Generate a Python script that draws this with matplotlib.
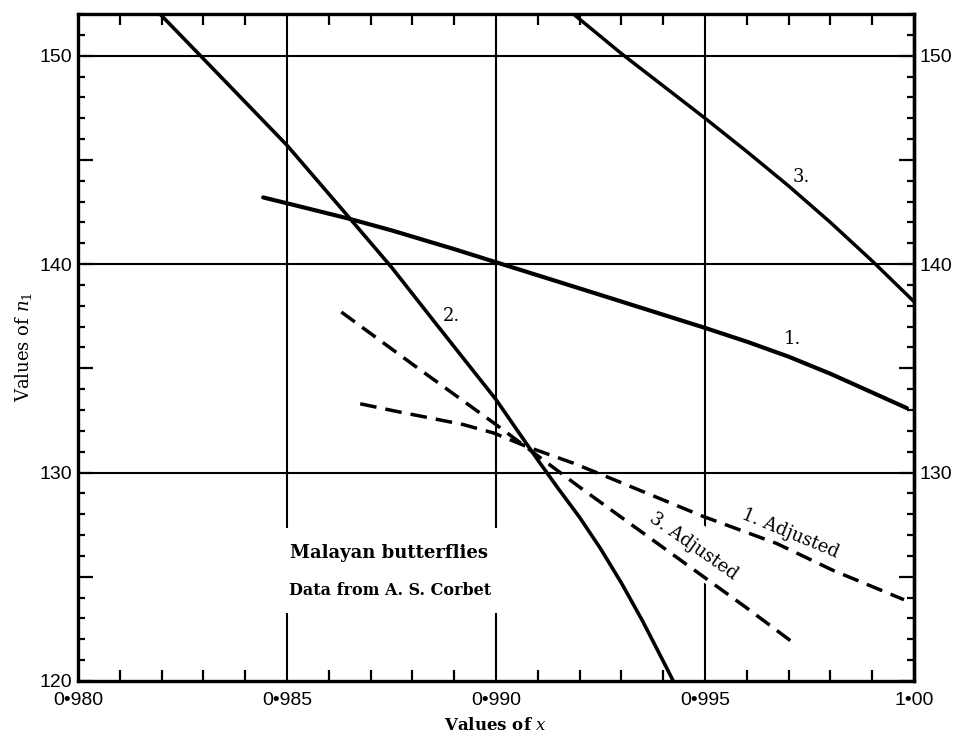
import matplotlib
matplotlib.use("Agg")
import matplotlib.pyplot as plt
from matplotlib.ticker import FixedLocator, MultipleLocator, FuncFormatter

# Curve 1: n1 from the unadjusted series
x_c1 = [0.98443, 0.9855, 0.9865, 0.9875, 0.9890, 0.9900, 0.9925, 0.9950, 0.9960, 0.9970,
        0.9980, 0.9990, 0.99983]
y_c1 = [143.2, 142.67, 142.17, 141.62, 140.72, 140.09, 138.52, 136.94, 136.28, 135.56,
        134.74, 133.84, 133.09]

# Curve 2
x_c2 = [0.98196, 0.9830, 0.9850, 0.9865, 0.9875, 0.9885, 0.9900, 0.9910, 0.9915, 0.9920,
        0.9925, 0.9930, 0.9935, 0.9940, 0.99424]
y_c2 = [152.0, 149.85, 145.7, 142.2, 139.85, 137.3, 133.5, 130.6, 129.2, 127.85,
        126.35, 124.7, 122.9, 120.95, 120.0]

# Curve 3
x_c3 = [0.99185, 0.9930, 0.9950, 0.9960, 0.9970, 0.9980, 0.9990, 1.0000]
y_c3 = [152.0, 150.1, 147.0, 145.4, 143.75, 142.0, 140.15, 138.2]

# Adjusted versions of curves 1 and 3
x_a1 = [0.98675, 0.98770, 0.98842, 0.98922, 0.98994, 0.99073, 0.99185, 0.99265,
        0.99495, 0.99671, 0.99807, 0.99976]
y_a1 = [133.3, 132.9, 132.62, 132.3, 131.9, 131.25, 130.45, 129.8, 127.9, 126.6, 125.3, 123.9]

x_a3 = [0.9863, 0.9880, 0.9900, 0.9920, 0.9940, 0.9960, 0.9972]
y_a3 = [137.7, 135.2, 132.3, 129.3, 126.4, 123.5, 121.7]

# Axis ticks and labels
x_major = [0.980, 0.985, 0.990, 0.995, 1.000]
x_major_labels = ["0\u2022980", "0\u2022985", "0\u2022990", "0\u2022995", "1\u202200"]
y_major = [120, 130, 140, 150]
y_mid = [125, 135, 145]
y_right = [130, 140, 150]

plt.rcParams['mathtext.fontset'] = 'dejavuserif'

fig = plt.figure(figsize=(9.55, 7.37), dpi=100)
ax = fig.add_axes([0.0817, 0.076, 0.8754, 0.905])
ax.set_xlim(x_major[0], x_major[-1])
ax.set_ylim(120, 152)

# grid lines through the major values
for v in x_major[1:-1]:
    ax.axvline(v, color='black', lw=1.5, zorder=1)
for h in y_major[1:]:
    ax.axhline(h, color='black', lw=1.5, zorder=1)

solid = dict(color='black', solid_capstyle='round', solid_joinstyle='round', zorder=3)
ax.plot(x_c1, y_c1, lw=3.0, **solid)
ax.plot(x_c2, y_c2, lw=2.6, **solid)
ax.plot(x_c3, y_c3, lw=2.5, **solid)
dashed = dict(color='black', lw=2.5, linestyle=(0, (4.8, 2.6)), zorder=3)
ax.plot(x_a1, y_a1, **dashed)
ax.plot(x_a3, y_a3, **dashed)

serif = 'DejaVu Serif'
ax.text(0.99708, 136.4, "1.", family=serif, fontsize=13, ha='center', va='center', zorder=4)
ax.text(0.98894, 137.5, "2.", family=serif, fontsize=13, ha='center', va='center', zorder=4)
ax.text(0.99731, 144.2, "3.", family=serif, fontsize=13, ha='center', va='center', zorder=4)
ax.text(0.99703, 127.1, "1. Adjusted", family=serif, fontsize=13, rotation=-22.5,
        rotation_mode='anchor', ha='center', va='center', zorder=2)
ax.text(0.99472, 126.45, "3. Adjusted", family=serif, fontsize=13, rotation=-35,
        rotation_mode='anchor', ha='center', va='center', zorder=2,
        bbox=dict(boxstyle='square,pad=0.8', fc='white', ec='none'))

ax.text(0.98744, 126.15, "Malayan butterflies", family=serif, fontsize=13, weight='bold',
        ha='center', va='center', zorder=2,
        bbox=dict(boxstyle='square,pad=0.9', fc='white', ec='none'))
ax.text(0.98746, 124.35, "Data from A. S. Corbet", family=serif, fontsize=11.5, weight='bold',
        ha='center', va='center', zorder=2,
        bbox=dict(boxstyle='square,pad=0.9', fc='white', ec='none'))

# ticks
ax.xaxis.set_major_locator(FixedLocator(x_major))
ax.set_xticklabels(x_major_labels)
ax.xaxis.set_minor_locator(MultipleLocator(0.001))
ax.yaxis.set_major_locator(FixedLocator(sorted(y_major + y_mid)))
ax.yaxis.set_major_formatter(FuncFormatter(lambda v, p: f"{v:.0f}" if v in y_major else ""))
ax.yaxis.set_minor_locator(MultipleLocator(1))

ax.tick_params(axis='x', which='major', length=0, pad=8, labelsize=14)
ax.tick_params(axis='x', which='minor', direction='in', length=8, width=1.6, top=True, bottom=True)
ax.tick_params(axis='y', which='major', direction='in', length=11, width=1.6, left=True,
               right=True, pad=4, labelsize=14)
ax.tick_params(axis='y', which='minor', direction='in', length=5, width=1.6, left=True, right=True)
for lab in ax.get_xticklabels() + ax.get_yticklabels():
    lab.set_family('Liberation Sans')

sec = ax.secondary_yaxis('right')
sec.yaxis.set_major_locator(FixedLocator(y_right))
sec.yaxis.set_minor_locator(FixedLocator([]))
sec.yaxis.set_major_formatter(FuncFormatter(lambda v, p: f"{v:.0f}"))
sec.tick_params(which='both', length=0, pad=4, labelsize=14)
for lab in sec.get_yticklabels():
    lab.set_family('Liberation Sans')
sec.spines['right'].set_linewidth(2.4)

for s in ax.spines.values():
    s.set_linewidth(2.4)

ax.set_xlabel("Values of $x$", family=serif, fontsize=12, weight='bold', labelpad=6)
ax.set_ylabel("Values of $n_1$", family=serif, fontsize=13, labelpad=4)

fig.savefig("out.png", dpi=100, facecolor='white')
